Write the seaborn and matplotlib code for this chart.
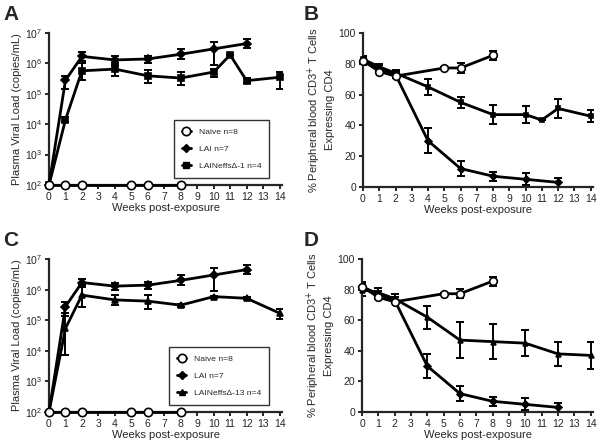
import numpy as np
import matplotlib
matplotlib.use("Agg")
import matplotlib.pyplot as plt
import seaborn as sns

# ---------------- data ----------------
# viral load panels (A, C)
naive_vl_weeks = [0, 1, 2, 5, 6, 8]
naive_vl = [1e2, 1e2, 1e2, 1e2, 1e2, 1e2]

lai_vl_weeks = [0, 1, 2, 4, 6, 8, 10, 12]
lai_vl = [1e2, 2.8e5, 1.7e6, 1.3e6, 1.4e6, 2.0e6, 3.0e6, 4.5e6]
lai_vl_lo = [1e2, 1.4e5, 1.2e6, 1.0e6, 1.07e6, 1.4e6, 9e5, 3.2e6]
lai_vl_hi = [1e2, 3.9e5, 2.3e6, 1.7e6, 1.8e6, 2.9e6, 4.9e6, 6.3e6]

neff1_vl_weeks = [0, 1, 2, 4, 6, 8, 10, 11, 12, 14]
neff1_vl = [1e2, 1.4e4, 5.7e5, 6.5e5, 3.9e5, 3.3e5, 5.2e5, 1.9e6, 2.7e5, 3.5e5]
neff1_vl_lo = [1e2, 1.2e4, 2.8e5, 3.9e5, 2.2e5, 2.0e5, 3.5e5, 1.9e6, 2.2e5, 1.4e5]
neff1_vl_hi = [1e2, 1.7e4, 1.02e6, 9e5, 6.2e5, 5.4e5, 6.6e5, 1.9e6, 3.3e5, 5.4e5]

neff13_vl_weeks = [0, 1, 2, 4, 6, 8, 10, 12, 14]
neff13_vl = [1e2, 5.4e4, 6.6e5, 4.6e5, 4.2e5, 3.1e5, 5.9e5, 5.2e5, 1.7e5]
neff13_vl_lo = [1e2, 7.2e3, 2.8e5, 3.1e5, 2.4e5, 2.8e5, 5.5e5, 4.8e5, 1.07e5]
neff13_vl_hi = [1e2, 1.7e5, 1.4e6, 6.6e5, 6.6e5, 3.4e5, 6.3e5, 5.6e5, 2.4e5]

# CD4 panels (B, D)
naive_cd4_weeks = [0, 1, 2, 5, 6, 8]
naive_cd4 = [82, 75, 72, 77.3, 77.3, 85.5]
naive_cd4_err = [3, 1, 1, 0.8, 3, 3]

lai_cd4_weeks = [0, 1, 2, 4, 6, 8, 10, 12]
lai_cd4 = [82, 77, 73, 30, 12, 7, 5, 3]
lai_cd4_err = [2, 2, 2, 8, 5, 3, 4, 3]

neff1_cd4_weeks = [0, 1, 2, 4, 6, 8, 10, 11, 12, 14]
neff1_cd4 = [83, 78, 74, 65, 55, 47, 47, 43.5, 51, 46]
neff1_cd4_err = [2, 2, 2, 5, 3.5, 6, 5.5, 0, 6, 4]

neff13_cd4_weeks = [0, 1, 2, 4, 6, 8, 10, 12, 14]
neff13_cd4 = [80, 78, 74, 62, 47, 46, 45, 38, 37]
neff13_cd4_err = [4.5, 3, 3, 7.5, 12, 11.5, 8.5, 8, 9]

week_ticks = list(range(0, 15))

# ---------------- style ----------------
sns.set_style("ticks")
plt.rcParams['font.family'] = ['Liberation Sans', 'DejaVu Sans']
plt.rcParams['axes.linewidth'] = 1.6
plt.rcParams['xtick.major.width'] = 1.4
plt.rcParams['ytick.major.width'] = 1.4
plt.rcParams['xtick.major.size'] = 3
plt.rcParams['ytick.major.size'] = 3

fig = plt.figure(figsize=(6, 4.43), dpi=100)
W, H = 600, 443


def add_axes(x0, y0, x1, y1):
    return fig.add_axes([x0 / W, 1 - y1 / H, (x1 - x0) / W, (y1 - y0) / H])


ax_a = add_axes(49, 33, 282, 185)
ax_b = add_axes(363, 33, 593, 187)
ax_c = add_axes(49, 259, 282, 412)
ax_d = add_axes(362, 259, 593, 412)


def draw(ax, x, y, lo, hi, marker, face, ms, label):
    x = np.array(x)
    y = np.array(y)
    yerr = np.vstack([y - np.array(lo), np.array(hi) - y])
    ax.errorbar(x, y, yerr=yerr, fmt='none', ecolor='black', elinewidth=1.4,
                capsize=3, capthick=1.4, zorder=2)
    sns.lineplot(x=x, y=y, ax=ax, color='black', linewidth=2, marker=marker,
                 markersize=ms, markerfacecolor=face, markeredgecolor='black',
                 markeredgewidth=1.2, label=label, legend=False, zorder=3,
                 clip_on=False)


def style_vl(ax, third_marker, third_label):
    ax.set_yscale('log')
    ax.set_ylim(1e2, 1e7)
    ax.set_xlim(0, 14.15)
    ax.set_xticks(week_ticks)
    ax.set_yticks([1e2, 1e3, 1e4, 1e5, 1e6, 1e7])
    ax.minorticks_off()
    ax.tick_params(labelsize=7.5, pad=2)
    ax.set_xlabel('Weeks post-exposure', fontsize=8, labelpad=1)
    ax.set_ylabel('Plasma Viral Load (copies/mL)', fontsize=8, labelpad=2)
    sns.despine(ax=ax)
    h = [
        plt.Line2D([], [], color='black', lw=2, marker='o', ms=6,
                   mfc='white', mec='black', mew=1.2),
        plt.Line2D([], [], color='black', lw=2, marker='D', ms=4.5,
                   mfc='black', mec='black'),
        plt.Line2D([], [], color='black', lw=2, marker=third_marker, ms=5,
                   mfc='black', mec='black'),
    ]
    leg = ax.legend(h, ['Naive n=8', 'LAI n=7', third_label],
                    loc='lower right', bbox_to_anchor=(0.944, 0.046),
                    fontsize=6.1, frameon=True, fancybox=False,
                    edgecolor='black', handlelength=1.1, handletextpad=0.9,
                    borderpad=0.9, labelspacing=1.1, borderaxespad=0)
    leg.get_frame().set_linewidth(1.0)


def style_cd4(ax):
    ax.set_ylim(0, 100)
    ax.set_xlim(0, 14.15)
    ax.set_xticks(week_ticks)
    ax.set_yticks([0, 20, 40, 60, 80, 100])
    ax.tick_params(labelsize=7.5, pad=2)
    ax.set_xlabel('Weeks post-exposure', fontsize=8, labelpad=1)
    ax.set_ylabel('% Peripheral blood CD3$^{+}$ T Cells\nExpressing CD4',
                  fontsize=8, labelpad=3)
    sns.despine(ax=ax)


for ax, neff_x, neff_y, neff_lo, neff_hi, mk, lab in [
    (ax_a, neff1_vl_weeks, neff1_vl, neff1_vl_lo, neff1_vl_hi, 's', 'LAINeffs\u0394-1 n=4'),
    (ax_c, neff13_vl_weeks, neff13_vl, neff13_vl_lo, neff13_vl_hi, '^', 'LAINeffs\u0394-13 n=4'),
]:
    draw(ax, lai_vl_weeks, lai_vl, lai_vl_lo, lai_vl_hi, 'D', 'black', 4.5, 'LAI')
    draw(ax, neff_x, neff_y, neff_lo, neff_hi, mk, 'black', 4.5, lab)
    draw(ax, naive_vl_weeks, naive_vl, naive_vl, naive_vl, 'o', 'white', 6, 'Naive')
    style_vl(ax, mk, lab)

for ax, neff_x, neff_y, neff_e, mk in [
    (ax_b, neff1_cd4_weeks, neff1_cd4, neff1_cd4_err, 's'),
    (ax_d, neff13_cd4_weeks, neff13_cd4, neff13_cd4_err, '^'),
]:
    draw(ax, lai_cd4_weeks, lai_cd4,
         np.array(lai_cd4) - np.array(lai_cd4_err),
         np.array(lai_cd4) + np.array(lai_cd4_err), 'D', 'black', 3.5, 'LAI')
    draw(ax, neff_x, neff_y,
         np.array(neff_y) - np.array(neff_e),
         np.array(neff_y) + np.array(neff_e), mk, 'black', 3.5, 'Neff')
    draw(ax, naive_cd4_weeks, naive_cd4,
         np.array(naive_cd4) - np.array(naive_cd4_err),
         np.array(naive_cd4) + np.array(naive_cd4_err), 'o', 'white', 5.5, 'Naive')
    style_cd4(ax)

# panel letters
for letter, x, y in [('A', 3, 20), ('B', 304, 20), ('C', 3, 246), ('D', 304, 246)]:
    fig.text(x / W, 1 - y / H, letter, fontsize=15, fontweight='bold',
             va='baseline', ha='left')

fig.savefig('out.png', dpi=100)
